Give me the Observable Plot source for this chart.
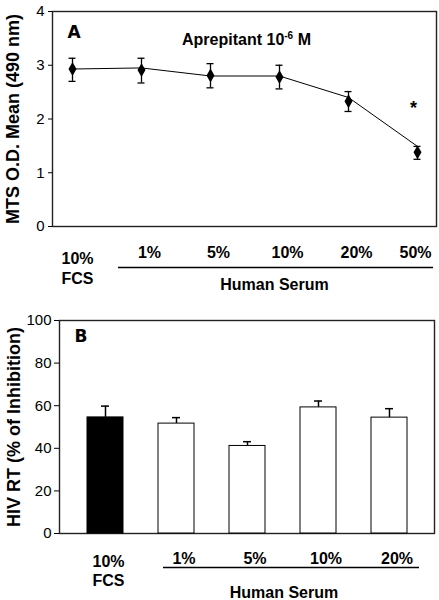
<!DOCTYPE html>
<html>
<head>
<meta charset="utf-8">
<script src="https://cdn.jsdelivr.net/npm/d3@7"></script>
<script src="https://cdn.jsdelivr.net/npm/@observablehq/plot@0.6"></script>
<style>
  html, body { margin: 0; padding: 0; background: white; }
  #chart svg { display: block; }
</style>
</head>
<body>
<div id="chart"></div>
<script>
// ---------- Panel A data ----------
const categoriesA = ["10% FCS", "1%", "5%", "10%", "20%", "50%"];
const tickLabelsA = ["10%\nFCS", "1%", "5%", "10%", "20%", "50%"];
const meanA = [2.93, 2.91, 2.81, 2.78, 2.33, 1.38];
const errLowA = [2.70, 2.67, 2.58, 2.56, 2.14, 1.25];
const errHighA = [3.13, 3.13, 3.03, 3.00, 2.51, 1.49];
const lineA = [2.93, 2.95, 2.80, 2.80, 2.40, 1.49];
const significantA = ["50%"];
const yTicksA = [0, 1, 2, 3, 4];
const titleA = ["Aprepitant 10", "-6", " M"];
const yLabelA = "MTS O.D. Mean (490 nm)";

// ---------- Panel B data ----------
const categoriesB = ["10% FCS", "1%", "5%", "10%", "20%"];
const tickLabelsB = ["10%\nFCS", "1%", "5%", "10%", "20%"];
const valuesB = [54.5, 51.6, 41.1, 59.2, 54.4];
const errHighB = [59.8, 54.4, 43.1, 62.2, 58.6];
const yTicksB = [0, 20, 40, 60, 80, 100];
const yLabelB = "HIV RT (% of Inhibition)";
const groupLabel = "Human Serum";

const dataA = categoriesA.map((c, i) => ({cat: c, label: tickLabelsA[i], mean: meanA[i], lo: errLowA[i], hi: errHighA[i], line: lineA[i]}));
const dataB = categoriesB.map((c, i) => ({cat: c, label: tickLabelsB[i], value: valuesB[i], hi: errHighB[i]}));

const FONT = "'Liberation Sans', Arial, Helvetica, sans-serif";
const style = {fontFamily: FONT, fontSize: "15px", color: "black", background: "white", overflow: "visible"};
const labelStyle = {fontSize: 16, fontWeight: "bold"};

const plotA = Plot.plot({
  width: 439, height: 300,
  marginTop: 11, marginBottom: 74, marginLeft: 52, marginRight: 3,
  style,
  x: {type: "point", domain: categoriesA, padding: 0.26, axis: null},
  y: {domain: [0, 4]},
  marks: [
    Plot.frame({stroke: "#222", strokeWidth: 1.4}),
    Plot.axisY({ticks: yTicksA, tickFormat: d3.format("d"), tickSize: 4, tickPadding: 4, fontSize: 15, label: null}),
    Plot.line(dataA, {x: "cat", y: "line", stroke: "black", strokeWidth: 1}),
    Plot.ruleX(dataA, {x: "cat", y1: "lo", y2: "hi", stroke: "black", strokeWidth: 1.3}),
    Plot.ruleY(dataA, {x1: "cat", x2: "cat", y: "lo", stroke: "black", strokeWidth: 1.3, insetLeft: -3.5, insetRight: -3.5}),
    Plot.ruleY(dataA, {x1: "cat", x2: "cat", y: "hi", stroke: "black", strokeWidth: 1.3, insetLeft: -3.5, insetRight: -3.5}),
    Plot.dot(dataA, {x: "cat", y: "mean", symbol: "diamond", r: 4.2, fill: "black", stroke: "none"}),
    Plot.text(dataA.filter(d => significantA.includes(d.cat)), {x: "cat", y: "hi", text: () => "*", dx: -4, dy: -38, fontSize: 18, fontWeight: "bold"}),
    Plot.text([titleA.join("")], {frameAnchor: "top", lineAnchor: "top", dx: 2, dy: 22.6, ...labelStyle}),
    Plot.text(["A"], {frameAnchor: "top-left", textAnchor: "start", lineAnchor: "top", dx: 15, dy: 14.3, fontSize: 17, fontWeight: "bold", fontFamily: "'DejaVu Sans', Verdana, sans-serif"}),
    Plot.text([yLabelA], {frameAnchor: "left", textAnchor: "middle", lineAnchor: "middle", rotate: -90, dx: -39, fontSize: 18, fontWeight: "bold"}),
    Plot.text(dataA.slice(0, 1), {x: "cat", text: "label", frameAnchor: "bottom", lineAnchor: "top", dx: 5, dy: 23.3, lineHeight: 1.25, ...labelStyle}),
    Plot.text(dataA.slice(1, 5), {x: "cat", text: "label", frameAnchor: "bottom", lineAnchor: "top", dx: 8, dy: 20, ...labelStyle}),
    Plot.text(dataA.slice(5), {x: "cat", text: "label", frameAnchor: "bottom", lineAnchor: "top", dx: -2, dy: 20, ...labelStyle}),
    Plot.ruleY([0], {dy: 41, insetLeft: 66, insetRight: 3, stroke: "black", strokeWidth: 1.5}),
    Plot.text([groupLabel], {frameAnchor: "bottom", lineAnchor: "top", dx: 30, dy: 51.7, ...labelStyle})
  ]
});

// superscript in title
const ns = "http://www.w3.org/2000/svg";
plotA.querySelectorAll("text").forEach(t => {
  if (t.textContent === titleA.join("")) {
    t.textContent = "";
    const a = document.createElementNS(ns, "tspan"); a.textContent = titleA[0];
    const b = document.createElementNS(ns, "tspan"); b.textContent = titleA[1];
    b.setAttribute("dy", "-6"); b.setAttribute("font-size", "10");
    const c = document.createElementNS(ns, "tspan"); c.textContent = titleA[2];
    c.setAttribute("dy", "6");
    t.append(a, b, c);
  }
});

const plotB = Plot.plot({
  width: 439, height: 300,
  marginTop: 20, marginBottom: 67, marginLeft: 59, marginRight: 5,
  style,
  x: {type: "band", domain: categoriesB, paddingInner: 0.5, paddingOuter: 0.36, axis: null},
  y: {domain: [0, 100]},
  marks: [
    Plot.frame({stroke: "#222", strokeWidth: 1.4}),
    Plot.axisY({ticks: yTicksB, tickFormat: d3.format("d"), tickSize: 5, tickPadding: 3, fontSize: 15, label: null}),
    Plot.ruleX(dataB, {x: "cat", y1: "value", y2: "hi", stroke: "black", strokeWidth: 1.5}),
    Plot.tickY(dataB, {x: "cat", y: "hi", stroke: "black", strokeWidth: 1.5, insetLeft: 14, insetRight: 14}),
    Plot.barY(dataB, {x: "cat", y: "value", fill: d => d.cat === "10% FCS" ? "black" : "white", stroke: "black", strokeWidth: 1}),
    Plot.text(["B"], {frameAnchor: "top-left", textAnchor: "start", lineAnchor: "top", dx: 15, dy: 9, fontSize: 17, fontWeight: "bold", fontFamily: "'DejaVu Sans', Verdana, sans-serif"}),
    Plot.text([yLabelB], {frameAnchor: "left", textAnchor: "middle", lineAnchor: "middle", rotate: -90, dx: -45, fontSize: 18, fontWeight: "bold"}),
    Plot.text(dataB.slice(0, 1), {x: "cat", text: "label", frameAnchor: "bottom", lineAnchor: "top", dx: 3, dy: 19.5, lineHeight: 1.2, ...labelStyle}),
    Plot.text(dataB.slice(1), {x: "cat", text: "label", frameAnchor: "bottom", lineAnchor: "top", dx: 7.5, dy: 19.5, ...labelStyle}),
    Plot.ruleY([0], {dy: 34, insetLeft: 104, insetRight: 15, stroke: "black", strokeWidth: 1.5}),
    Plot.text([groupLabel], {frameAnchor: "bottom", lineAnchor: "top", dx: 37, dy: 52.7, ...labelStyle})
  ]
});

document.getElementById("chart").append(plotA, plotB);
</script>
</body>
</html>
